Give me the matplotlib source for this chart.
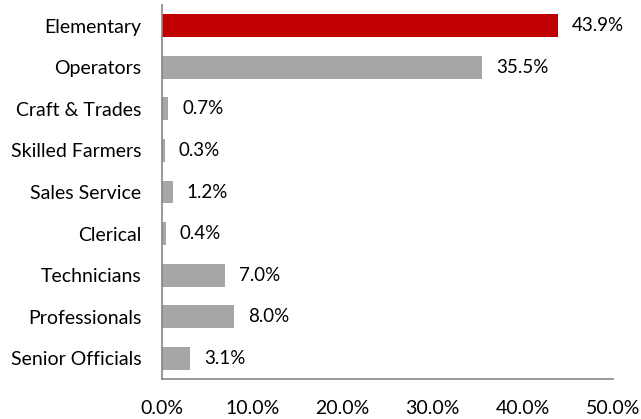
import matplotlib.pyplot as plt

categories = ['Elementary', 'Operators', 'Craft & Trades', 'Skilled Farmers', 'Sales Service',
              'Clerical', 'Technicians', 'Professionals', 'Senior Officials']
values = [43.9, 35.5, 0.7, 0.3, 1.2, 0.4, 7.0, 8.0, 3.1]
colors = ['#C00000'] + ['#A6A6A6'] * 8
xticks = [0, 10, 20, 30, 40, 50]

plt.rcParams['font.family'] = ['Lato', 'DejaVu Sans']

fig = plt.figure(figsize=(6.41, 4.19), dpi=100)
ax = fig.add_axes([162/641, 1 - 379/419, (613 - 162)/641, (379 - 5)/419])

ypos = list(range(len(categories)))
ax.barh(ypos, values, height=0.55, color=colors)
ax.set_ylim(len(categories) - 0.5, -0.5)
ax.set_xlim(0, 50)

for y, v in zip(ypos, values):
    ax.annotate(f'{v:.1f}%', (v, y), xytext=(10, 0), textcoords='offset points',
                va='center', ha='left', fontsize=13.5, color='#000000')

ax.set_yticks(ypos)
ax.set_yticklabels(categories, fontsize=14)
ax.set_xticks(xticks)
ax.set_xticklabels([f'{t:.1f}%' for t in xticks], fontsize=14)
ax.tick_params(axis='y', length=0, pad=15)
ax.tick_params(axis='x', length=0, pad=15)

for s in ['top', 'right']:
    ax.spines[s].set_visible(False)
for s in ['left', 'bottom']:
    ax.spines[s].set_color('#868686')
    ax.spines[s].set_linewidth(1.2)

fig.savefig('out.png', dpi=100)
